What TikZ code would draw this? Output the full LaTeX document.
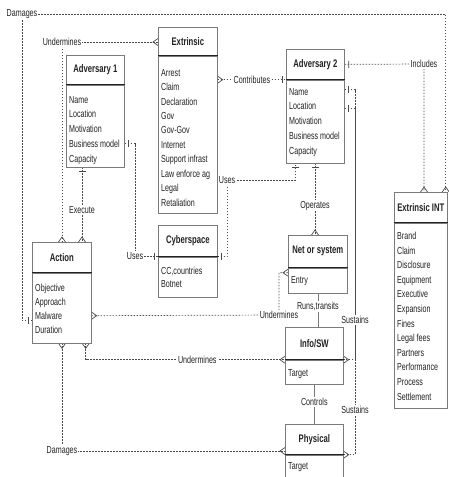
\documentclass[tikz,border=0pt]{standalone}
\usepackage{fontspec}
\newfontfamily\erfont[FakeStretch=0.7]{Liberation Sans}
\usetikzlibrary{arrows.meta,calc}
\pgfdeclarelayer{back}
\pgfdeclarelayer{bg}
\pgfsetlayers{back,bg,main}
\definecolor{boxgray}{HTML}{7A7A7A}
\definecolor{ink}{HTML}{222222}
\definecolor{linegray}{HTML}{4A4A4A}
\pgfdeclarearrow{
  name = Crow,
  defaults = {length = 5pt, width = 7pt},
  setup code = {
    \pgfarrowssettipend{0pt}
    \pgfarrowssetlineend{0pt}
    \pgfarrowssetvisualbackend{-\pgfarrowlength}
    \pgfarrowssetbackend{-\pgfarrowlength}
    \pgfarrowshullpoint{0pt}{.5\pgfarrowwidth}
    \pgfarrowshullpoint{0pt}{-.5\pgfarrowwidth}
    \pgfarrowshullpoint{-\pgfarrowlength}{0pt}
    \pgfarrowssavethe\pgfarrowlength
    \pgfarrowssavethe\pgfarrowwidth
  },
  drawing code = {
    \pgfsetdash{}{0pt}
    \pgfpathmoveto{\pgfqpoint{0pt}{.5\pgfarrowwidth}}
    \pgfpathlineto{\pgfqpoint{-\pgfarrowlength}{0pt}}
    \pgfpathlineto{\pgfqpoint{0pt}{-.5\pgfarrowwidth}}
    \pgfusepathqstroke
  },
  parameters = {\the\pgfarrowlength,\the\pgfarrowwidth},
}
\pgfdeclarearrow{
  name = ERBar,
  setup code = {
    \pgfarrowssettipend{0pt}
    \pgfarrowssetlineend{0pt}
    \pgfarrowssetvisualbackend{-5pt}
    \pgfarrowssetbackend{-5pt}
    \pgfarrowshullpoint{-4pt}{3.5pt}
    \pgfarrowshullpoint{-4pt}{-3.5pt}
    \pgfarrowshullpoint{0pt}{0pt}
  },
  drawing code = {
    \pgfsetdash{}{0pt}
    \pgfpathmoveto{\pgfqpoint{-4pt}{3.5pt}}
    \pgfpathlineto{\pgfqpoint{-4pt}{-3.5pt}}
    \pgfusepathqstroke
  },
}
\newcommand\erentity[9]{%
  \node[hdr, minimum width=#3pt, minimum height=#4pt] (#1) at (#2) {#6};
  \node[bodyb, minimum width=#3pt, minimum height=#5pt] (#1b) at (#1.south west) {};
  \draw[sepline] (#1.south west) -- (#1.south east);
  \node[items, font=\erfont\fontsize{10.2}{#8}\selectfont] (#1t) at ($(#1b.north west)+(3,#7)$) {#9};
}
\begin{document}
\begin{tikzpicture}[x=1pt,y=-1pt,
  hdr/.style={draw=boxgray, line width=0.7pt, inner sep=0pt, anchor=north west, text=ink,
    font=\erfont\bfseries\fontsize{11}{13}\selectfont},
  bodyb/.style={draw=boxgray, line width=0.7pt, inner sep=0pt, anchor=north west},
  sepline/.style={draw=ink, line width=1.1pt},
  items/.style={inner sep=0pt, anchor=north west, align=left, text=ink},
  lbl/.style={font=\erfont\fontsize{10.2}{12}\selectfont, inner sep=1pt, fill=white, text=ink},
  conn/.style={draw=linegray, line width=0.7pt, dash pattern=on 1.5pt off 1.5pt},
  solidc/.style={draw=boxgray, line width=0.7pt},
]
\useasboundingbox (0,0) rectangle (448,477);
\begin{pgfonlayer}{back}
\fill[white] (0,0) rectangle (448,477);
\end{pgfonlayer}

\erentity{adv1}{66,55}{58}{29}{82}{Adversary 1}{11.25}{14.75}{Name\\Location\\Motivation\\Business model\\Capacity}
\erentity{ext}{158,27}{59}{28}{157}{Extrinsic}{13.25}{14.44}{Arrest\\Claim\\Declaration\\Gov\\Gov-Gov\\Internet\\Support infrast\\Law enforce ag\\Legal\\Retaliation}
\erentity{adv2}{286,49}{58}{30}{83}{Adversary 2}{8.25}{14.75}{Name\\Location\\Motivation\\Business model\\Capacity}
\erentity{cyb}{158,225}{59}{31}{40}{Cyberspace}{10.25}{13}{CC,countries\\Botnet}
\erentity{act}{32,242}{59}{30}{70}{Action}{11.25}{14}{Objective\\Approach\\Malware\\Duration}
\erentity{net}{288,235}{59}{32}{25}{Net or system}{8.25}{14}{Entry}
\erentity{info}{285,327}{58}{32}{24}{Info/SW}{9.25}{14}{Target}
\erentity{phys}{285,424}{58}{30}{40}{Physical}{7.25}{14}{Target}
\erentity{eint}{394,192}{53}{30}{185}{Extrinsic INT}{9.25}{14.6}{Brand\\Claim\\Disclosure\\Equipment\\Executive\\Expansion\\Fines\\Legal fees\\Partners\\Performance\\Process\\Settlement}

% connection points
\coordinate (c1a) at ($(actb.north west)+(0,48)$);
\coordinate (c1b) at ($(eint.north east)+(-2,0)$);
\coordinate (c2a) at ($(act.north west)+(30,0)$);
\coordinate (c3a) at ($(adv1b.south west)+(16,0)$);
\coordinate (c3b) at ($(act.north west)+(50,0)$);
\coordinate (c4a) at ($(adv1b.north east)+(0,59)$);
\coordinate (c5b) at ($(adv2b.south west)+(9,0)$);
\coordinate (c6a) at ($(extb.north east)+(0,24)$);
\coordinate (c8a) at ($(adv2b.south west)+(29,0)$);
\coordinate (c9a) at ($(adv2b.north east)+(0,10)$);
\coordinate (c10a) at ($(adv2b.north east)+(0,29)$);
\coordinate (c11a) at ($(actb.north east)+(0,43)$);
\coordinate (c11b) at ($(netb.north west)+(0,5)$);
\coordinate (c13a) at ($(actb.south east)+(-6,0)$);
\coordinate (c14a) at ($(actb.south west)+(30,0)$);

% corner labels
\node[lbl] (lDam1) at (22,14) {Damages};
\node[lbl] (lUnd1) at (62,42) {Undermines};
\node[lbl] (lUse1) at (135,256) {Uses};
\node[lbl] (lUse2) at (227,180) {Uses};
\node[lbl] (lInc) at (424,64) {Includes};
\node[lbl] (lSus1) at (355,320) {Sustains};
\node[lbl] (lSus2) at (355,410) {Sustains};
\node[lbl] (lUnd2) at (279,315) {Undermines};
\node[lbl] (lDam2) at (62,451) {Damages};

\begin{pgfonlayer}{bg}
\draw[conn,{ERBar}-{Crow}] (c1a) -- (lDam1.center |- c1a) -- (lDam1.center) -- (lDam1.center -| c1b) -- (c1b);
\draw[conn,{Crow}-{Crow}] (c2a) -- (lUnd1.center) -- (lUnd1.center -| ext.west);
\draw[conn,{ERBar}-{Crow}] (c3a) -- node[lbl,pos=.57] (lExe) {Execute} (c3b);
\draw[conn,{ERBar}-{ERBar}] (c4a) -- (lUse1.center |- c4a) -- (lUse1.center) -- (lUse1.center -| cyb.south west);
\draw[conn,{ERBar}-{ERBar}] (cyb.south east) -- (lUse2.center |- cyb.south east) -- (lUse2.center) -- (lUse2.center -| c5b) -- (c5b);
\draw[conn,{Crow}-{ERBar}] (c6a) -- node[lbl] (lCon) {Contributes} (c6a -| adv2b.west);
\draw[conn,{ERBar}-{Crow}] (adv2.east) -- (lInc.center) -- (lInc.center |- eint.north);
\draw[conn,{ERBar}-{Crow}] (c8a) -- node[lbl,pos=.59] (lOpe) {Operates} (c8a |- net.north);
\draw[conn,{ERBar}-{Crow}] (c9a) -- (lSus1.center |- c9a) -- (lSus1.center) -- (lSus1.center |- info.south east) -- (info.south east);
\draw[conn,{ERBar}-{Crow}] (c10a) -- (lSus2.center |- c10a) -- (lSus2.center) -- (lSus2.center |- phys.south east) -- (phys.south east);
\draw[conn,{Crow}-{Crow}] (c11a) -- (lUnd2.center) -- (lUnd2.center |- c11b) -- (c11b);
\draw[solidc] (netb.south) -- node[lbl,pos=.4] (lRun) {Runs,transits} (netb.south |- info.north);
\draw[conn,{Crow}-{Crow}] (c13a) -- (c13a |- info.south west) -- node[lbl,pos=.56] (lUnd3) {Undermines} (info.south west);
\draw[conn,{Crow}-{Crow}] (c14a) -- (lDam2.center) -- (lDam2.center -| phys.south west);
\draw[solidc] (infob.south) -- node[lbl,pos=.44] (lCtl) {Controls} (infob.south |- phys.north);
\end{pgfonlayer}
\end{tikzpicture}
\end{document}
